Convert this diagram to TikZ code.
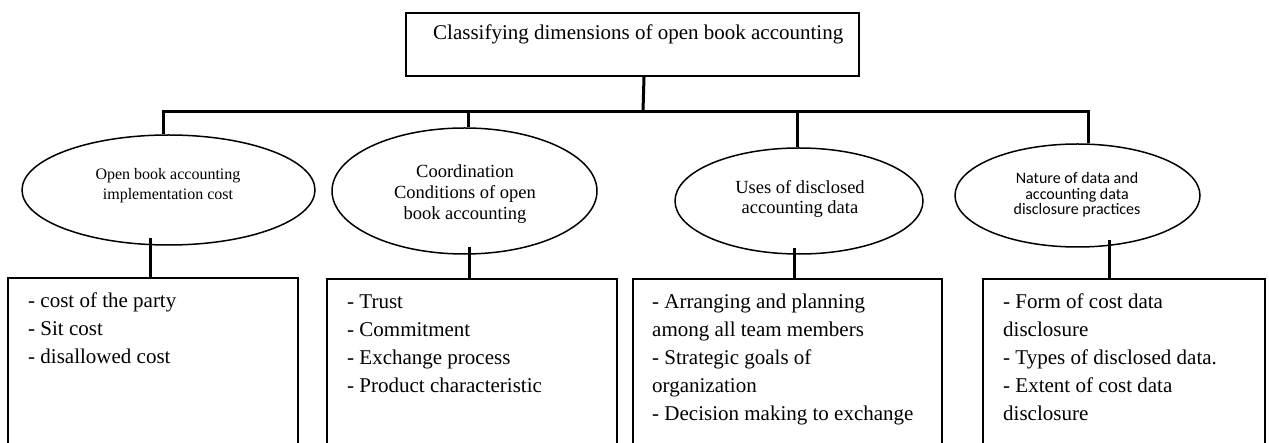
\documentclass[tikz,border=0pt]{standalone}
\usepackage{fontspec}
\setmainfont{Liberation Serif}
\newfontfamily\calib{Carlito}
\usetikzlibrary{shapes.geometric,calc}
\begin{document}
\begin{tikzpicture}[x=1pt,y=-1pt,
  stem/.style={line width=3pt},
  topbox/.style={draw, line width=2pt, rectangle, inner sep=0pt, anchor=north west},
  listbox/.style={draw, line width=2pt, rectangle, inner sep=0pt, anchor=north west, minimum height=180pt},
  ell/.style={draw, ellipse, line width=1.5pt, inner sep=0pt},
  ltext/.style={anchor=north west, inner sep=0pt, align=left, font=\fontsize{21}{28}\selectfont},
  etext/.style={anchor=north, inner sep=0pt, align=center}]
\path[use as bounding box, clip] (0,0) rectangle (1269,443);
\fill[white] (0,0) rectangle (1269,443);

% top box
\node[topbox, minimum width=453pt, minimum height=63pt] (top) at (405,12) {};
\node[anchor=base west, inner sep=0pt, font=\fontsize{21}{28}\selectfont] (toptext) at (433,40) {Classifying dimensions of open book accounting};

% ellipses
\node[ell, minimum width=293pt, minimum height=110pt] (e1) at (168.5,190) {};
\node[ell, minimum width=265pt, minimum height=126pt] (e2) at (464.5,191) {};
\node[ell, minimum width=248pt, minimum height=106pt] (e3) at (799,201) {};
\node[ell, minimum width=245pt, minimum height=103pt] (e4) at (1077.5,195.5) {};

\node[etext, font=\fontsize{16}{20}\selectfont] (et1) at (168,165) {\strut Open book accounting\\implementation cost};
\node[etext, font=\fontsize{18.5}{21}\selectfont] (et2) at (465,162.3) {\strut Coordination\\Conditions of open\\book accounting};
\node[etext, font=\fontsize{18.5}{20.5}\selectfont] (et3) at (800,178.6) {\strut Uses of disclosed\\accounting data};
\node[etext, font=\calib\fontsize{16}{15}\selectfont] (et4) at (1077,172) {\strut Nature of data and\\accounting data\\disclosure practices};

% list boxes
\node[listbox, minimum width=290pt] (b1) at (7,277) {};
\node[listbox, minimum width=290pt] (b2) at (326,278) {};
\node[listbox, minimum width=309pt] (b3) at (632,278) {};
\node[listbox, minimum width=282pt] (b4) at (982,278) {};

\node[ltext] (lt1) at (28,287.4) {\strut - cost of the party\\- Sit cost\\- disallowed cost};
\node[ltext] (lt2) at (347,288.4) {\strut - Trust\\- Commitment\\- Exchange process\\- Product characteristic};
\node[ltext] (lt3) at (652,288.4) {\strut - Arranging and planning\\among all team members\\- Strategic goals of\\organization\\- Decision making to exchange};
\node[ltext] (lt4) at (1003,288.4) {\strut - Form of cost data\\disclosure\\- Types of disclosed data.\\- Extent of cost data\\disclosure};

% connectors top
\coordinate (bus) at (643,111.5);
\coordinate (busL) at (163,111.5);
\coordinate (busR) at (1088,111.5);
\draw[stem] ([xshift=11.5pt]top.south) -- (bus);
\draw[stem] ([xshift=-5.5pt]e1.north) -- (busL) -- (busR) -- ([xshift=10.5pt]e4.north);
\draw[stem] ([xshift=3.5pt]e2.north) -- ($(e2.north |- busL)+(3.5,0)$);
\draw[stem] ([xshift=-2pt]e3.north) -- ($(e3.north |- busL)+(-2,0)$);

% connectors bottom
\draw[stem] ([xshift=-3pt]b1.north) -- ($(b1.north |- e1.south)+(-3,-8)$);
\draw[stem] ([xshift=-3pt]b2.north) -- ($(b2.north |- e2.south)+(-3,-8)$);
\draw[stem] ([xshift=6.5pt]b3.north) -- ($(b3.north |- e3.south)+(6.5,-7)$);
\draw[stem] ([xshift=-15pt]b4.north) -- ($(b4.north |- e4.south)+(-15,-8)$);
\end{tikzpicture}
\end{document}
